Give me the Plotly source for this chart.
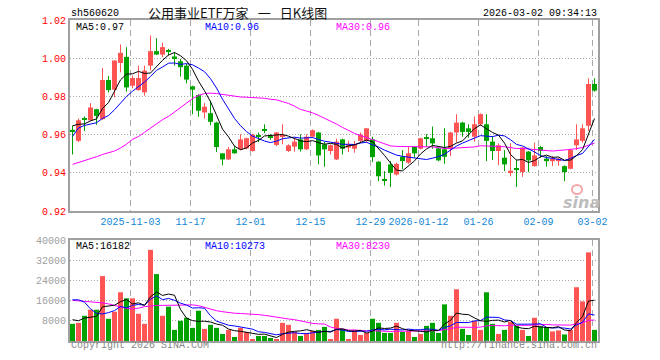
import numpy as np
import pandas as pd
import plotly.graph_objects as go

# ---------------- data ----------------
tick_labels = ["2025-11-03", "11-17", "12-01", "12-15", "12-29", "2026-01-12", "01-26", "02-09", "03-02"]
tick_index = [10, 20, 30, 40, 50, 58, 68, 78, 87]

open_ = [0.9625, 0.9567, 0.9683, 0.9675, 0.9733, 0.9681, 0.9886, 0.9835, 0.9975, 1.0007,
         0.9856, 0.9833, 0.9821, 0.9961, 1.0037, 1.0019, 1.0040, 1.0009, 0.9984, 0.9961,
         0.9853, 0.9807, 0.9716, 0.9712, 0.9663, 0.9502, 0.9470, 0.9523, 0.9523, 0.9528,
         0.9514, 0.9591, 0.9624, 0.9590, 0.9546, 0.9589, 0.9514, 0.9537, 0.9575, 0.9523,
         0.9589, 0.9611, 0.9549, 0.9514, 0.9470, 0.9575, 0.9532, 0.9526, 0.9567, 0.9567,
         0.9575, 0.9458, 0.9362, 0.9444, 0.9391, 0.9484, 0.9453, 0.9535, 0.9526, 0.9581,
         0.9581, 0.9528, 0.9523, 0.9528, 0.9611, 0.9663, 0.9633, 0.9589, 0.9654, 0.9654,
         0.9563, 0.9514, 0.9479, 0.9404, 0.9423, 0.9404, 0.9511, 0.9435, 0.9535, 0.9474,
         0.9461, 0.9461, 0.9435, 0.9421, 0.9544, 0.9567, 0.9646, 0.9865]
high = [0.9646, 0.9684, 0.9695, 0.9765, 0.9735, 0.9949, 0.9907, 0.9988, 1.0072, 1.0058,
        0.9909, 0.9961, 0.9961, 1.0119, 1.0105, 1.0081, 1.0049, 1.0032, 0.9996, 0.9970,
        0.9856, 0.9812, 0.9765, 0.9777, 0.9667, 0.9502, 0.9535, 0.9540, 0.9602, 0.9584,
        0.9604, 0.9611, 0.9654, 0.9602, 0.9614, 0.9654, 0.9549, 0.9584, 0.9602, 0.9602,
        0.9628, 0.9614, 0.9561, 0.9549, 0.9579, 0.9579, 0.9567, 0.9567, 0.9611, 0.9633,
        0.9589, 0.9461, 0.9409, 0.9461, 0.9453, 0.9519, 0.9537, 0.9540, 0.9584, 0.9602,
        0.9642, 0.9532, 0.9633, 0.9614, 0.9707, 0.9667, 0.9654, 0.9695, 0.9711, 0.9707,
        0.9593, 0.9554, 0.9519, 0.9554, 0.9470, 0.9535, 0.9514, 0.9558, 0.9540, 0.9488,
        0.9488, 0.9479, 0.9439, 0.9526, 0.9654, 0.9654, 0.9895, 0.9895]
low = [0.9496, 0.9561, 0.9619, 0.9672, 0.9651, 0.9677, 0.9821, 0.9795, 0.9926, 0.9825,
       0.9842, 0.9830, 0.9804, 0.9935, 1.0018, 1.0005, 1.0014, 0.9961, 0.9904, 0.9868,
       0.9707, 0.9693, 0.9684, 0.9649, 0.9509, 0.9439, 0.9467, 0.9500, 0.9518, 0.9523,
       0.9511, 0.9561, 0.9607, 0.9572, 0.9540, 0.9549, 0.9509, 0.9511, 0.9511, 0.9519,
       0.9584, 0.9444, 0.9432, 0.9496, 0.9467, 0.9496, 0.9509, 0.9505, 0.9561, 0.9558,
       0.9456, 0.9356, 0.9333, 0.9326, 0.9386, 0.9418, 0.9447, 0.9479, 0.9523, 0.9537,
       0.9526, 0.9461, 0.9447, 0.9488, 0.9558, 0.9589, 0.9584, 0.9563, 0.9646, 0.9461,
       0.9467, 0.9440, 0.9409, 0.9382, 0.9326, 0.9379, 0.9404, 0.9432, 0.9479, 0.9432,
       0.9435, 0.9437, 0.9356, 0.9418, 0.9519, 0.9558, 0.9619, 0.9825]
close = [0.9616, 0.9675, 0.9680, 0.9742, 0.9698, 0.9886, 0.9833, 0.9988, 1.0028, 0.9847,
         0.9896, 0.9896, 0.9935, 1.0037, 1.0019, 1.0058, 1.0035, 1.0000, 0.9953, 0.9888,
         0.9835, 0.9725, 0.9746, 0.9667, 0.9535, 0.9470, 0.9523, 0.9502, 0.9575, 0.9581,
         0.9600, 0.9588, 0.9621, 0.9587, 0.9611, 0.9596, 0.9544, 0.9563, 0.9523, 0.9589,
         0.9623, 0.9491, 0.9523, 0.9544, 0.9563, 0.9526, 0.9549, 0.9549, 0.9600, 0.9633,
         0.9482, 0.9382, 0.9359, 0.9400, 0.9447, 0.9461, 0.9502, 0.9502, 0.9581, 0.9578,
         0.9554, 0.9465, 0.9484, 0.9611, 0.9663, 0.9614, 0.9614, 0.9654, 0.9707, 0.9567,
         0.9514, 0.9544, 0.9444, 0.9411, 0.9419, 0.9532, 0.9465, 0.9491, 0.9514, 0.9461,
         0.9474, 0.9474, 0.9404, 0.9519, 0.9575, 0.9633, 0.9865, 0.9830]
volume = [6800, 7200, 10000, 12400, 12400, 25700, 8800, 11600, 19300, 16900,
          16900, 10800, 6800, 36100, 26500, 10000, 13600, 4400, 8000, 9200,
          5200, 12000, 4800, 6400, 5200, 2800, 4400, 1600, 5200, 3600,
          800, 2000, 2000, 1200, 800, 7200, 6400, 3600, 2000, 3200,
          4000, 4400, 5600, 400, 8800, 4800, 800, 4400, 2400, 3200,
          8800, 7200, 3200, 3200, 7200, 3600, 4000, 1600, 2800, 6000,
          7200, 3200, 14500, 10000, 20500, 4800, 2400, 8000, 4400, 19300,
          6800, 2800, 4400, 7600, 6000, 4400, 2000, 9200, 5800, 5400,
          3800, 4200, 2600, 4400, 21300, 15700, 35100, 4400]

# moving-average values before enough visible history exists
ma5_head = [0.9646, 0.9654, 0.9656, 0.9672]
ma10_head = [0.9590, 0.9635, 0.9648, 0.9655, 0.9662, 0.9685, 0.9700, 0.9730, 0.9765]
ma30_head = [0.9444, 0.9453, 0.9462, 0.9472, 0.9484, 0.9496, 0.9505, 0.9514, 0.9530, 0.9550,
             0.9575, 0.9590, 0.9612, 0.9635, 0.9658, 0.9678, 0.9695, 0.9720, 0.9742, 0.9765,
             0.9788, 0.9805, 0.9815, 0.9817, 0.9815, 0.9810, 0.9805, 0.9800, 0.9797]
vma5_head = [8430, 8030, 9100, 9370]
vma10_head = [16320, 16320, 15390, 12710, 10970, 10700, 11240, 12040, 13650]
vma30_head = [16100, 15900, 15700, 15500, 15400, 15100, 14700, 14000, 13300, 12900,
              12700, 13000, 13600, 14000, 14100, 14100, 14100, 14100, 14100, 14200,
              14300, 14000, 13300, 12500, 12000, 11600, 11200, 11000, 10900]

price_ticks = [0.92, 0.94, 0.96, 0.98, 1.00, 1.02]
vol_ticks = [8000, 16000, 24000, 32000, 40000]
price_ma_labels = ["MA5:0.97", "MA10:0.96", "MA30:0.96"]
vol_ma_labels = ["MA5:16182", "MA10:10273", "MA30:8230"]

# ---------------- derived ----------------
o = np.array(open_); h = np.array(high); l = np.array(low); c = np.array(close)
v = np.array(volume, dtype=float)
n = len(c)
x = np.arange(n)


def ma(arr, w, head):
    s = pd.Series(arr).rolling(w).mean().to_numpy()
    s[:len(head)] = head
    return s


ma5, ma10, ma30 = ma(c, 5, ma5_head), ma(c, 10, ma10_head), ma(c, 30, ma30_head)
vma5, vma10, vma30 = ma(v, 5, vma5_head), ma(v, 10, vma10_head), ma(v, 30, vma30_head)

RED = "#ff5454"
GREEN = "#00a200"
up = c > o
colors = [RED if u else GREEN for u in up]

MONO = "Liberation Mono, DejaVu Sans Mono, monospace"
GRID = "#a8a8a8"
BORDER = "#a0a0a0"

fig = go.Figure()

# wicks
for mask, col in [(up, RED), (~up, GREEN)]:
    xs, ys = [], []
    for i in x[mask]:
        xs += [i, i, None]
        ys += [l[i], h[i], None]
    fig.add_trace(go.Scatter(x=xs, y=ys, mode="lines", line=dict(color=col, width=1),
                             xaxis="x", yaxis="y", hoverinfo="skip", showlegend=False))

# bodies
body_lo = np.minimum(o, c)
body_h = np.maximum(np.abs(c - o), 0.00055)
fig.add_trace(go.Bar(x=x, y=body_h, base=body_lo, width=5 / 6,
                     marker=dict(color=colors, line=dict(width=0)),
                     xaxis="x", yaxis="y", showlegend=False))

for arr, col in [(ma30, "#ff00ff"), (ma10, "#0000ff"), (ma5, "#000000")]:
    fig.add_trace(go.Scatter(x=x, y=arr, mode="lines", line=dict(color=col, width=1),
                             xaxis="x", yaxis="y", showlegend=False))

# volume
fig.add_trace(go.Bar(x=x, y=v, width=5 / 6, marker=dict(color=colors, line=dict(width=0)),
                     xaxis="x2", yaxis="y2", showlegend=False))
for arr, col in [(vma30, "#ff00ff"), (vma10, "#0000ff"), (vma5, "#000000")]:
    fig.add_trace(go.Scatter(x=x, y=arr, mode="lines", line=dict(color=col, width=1),
                             xaxis="x2", yaxis="y2", showlegend=False))

grid_x = [t - 1 / 3 for t in tick_index]
xr = [-0.4167, n - 1 + 0.5833]

common_x = dict(range=xr, tickmode="array", tickvals=grid_x, showgrid=True,
                gridcolor=GRID, griddash="6px,4px", gridwidth=1, zeroline=False,
                showline=True, mirror=True, linecolor=BORDER, linewidth=2, ticks="",
                fixedrange=True)
common_y = dict(showgrid=True, gridcolor=GRID, griddash="1px,2px", gridwidth=1,
                zeroline=False, showline=True, mirror=True, linecolor=BORDER,
                linewidth=2, ticks="", tickmode="array", fixedrange=True)

H_TOP, H_BOT = 20, 19
PLOT_H = 360 - H_TOP - H_BOT  # 321


def yp(py):
    return (360 - H_BOT - py) / PLOT_H


def xp(px):
    return (px - 70) / 528


fig.update_layout(
    width=660, height=360,
    margin=dict(l=70, r=62, t=H_TOP, b=H_BOT, pad=0),
    paper_bgcolor="white", plot_bgcolor="white",
    barmode="overlay", showlegend=False,
    xaxis=dict(common_x, anchor="y", ticktext=tick_labels, showticklabels=True,
               tickfont=dict(family=MONO, size=10, color="#1286d6")),
    yaxis=dict(common_y, domain=[yp(211), 1], range=[0.92, 1.02], tickvals=price_ticks,
               ticktext=[f"{t:.2f}" for t in price_ticks],
               tickfont=dict(family=MONO, size=10, color="#ff0000"), anchor="x"),
    xaxis2=dict(common_x, anchor="y2", matches="x", showticklabels=False),
    yaxis2=dict(common_y, domain=[0, yp(240)], range=[0, 40000], tickvals=vol_ticks,
                ticktext=[str(t) for t in vol_ticks],
                tickfont=dict(family=MONO, size=10, color="#a0a0a0"), anchor="x2"),
)

ann = []


def add(text, px, py, anchor="left", color="#000000", size=10, family=MONO, **kw):
    ann.append(dict(text=text, x=xp(px), y=yp(py), xref="paper", yref="paper",
                    xanchor=anchor, yanchor="middle", showarrow=False,
                    font=dict(family=family, size=size, color=color), **kw))


add("sh560620", 69, 13)
add("公用事业ETF万家\u2002\u2009一\u2002\u2009日K线图", 237, 12, anchor="center", size=13,
    family="Noto Sans CJK SC, sans-serif", color="#111111")
add("2026-03-02 09:34:13", 599, 13, anchor="right")
ma_cols = ["#000000", "#0000ff", "#ff00ff"]
for txt, px, col in zip(price_ma_labels, [74, 203, 334], ma_cols):
    add(txt, px, 27, color=col)
for txt, px, col in zip(vol_ma_labels, [74, 203, 334], ma_cols):
    add(txt, px, 246, color=col)
add("Copyright 2026 SINA.COM", 69, 346, color="#888888")
add("http://finance.sina.com.cn", 599, 346, anchor="right", color="#888888")
add("<b><i>sina</i></b>", 581, 202, anchor="center", color="#bdbdbd", size=16,
    family="DejaVu Sans, sans-serif")
fig.update_layout(annotations=ann)

# pink "eye" of the watermark logo (decoration)
fig.add_shape(type="circle", xref="paper", yref="paper",
              x0=xp(572), x1=xp(582), y0=yp(194), y1=yp(185),
              line=dict(color="#f4a8a8", width=2), fillcolor="rgba(0,0,0,0)")

fig.write_html("out.html", config={"displayModeBar": False},
               post_script="document.body.style.margin='0';document.body.style.padding='0';")
